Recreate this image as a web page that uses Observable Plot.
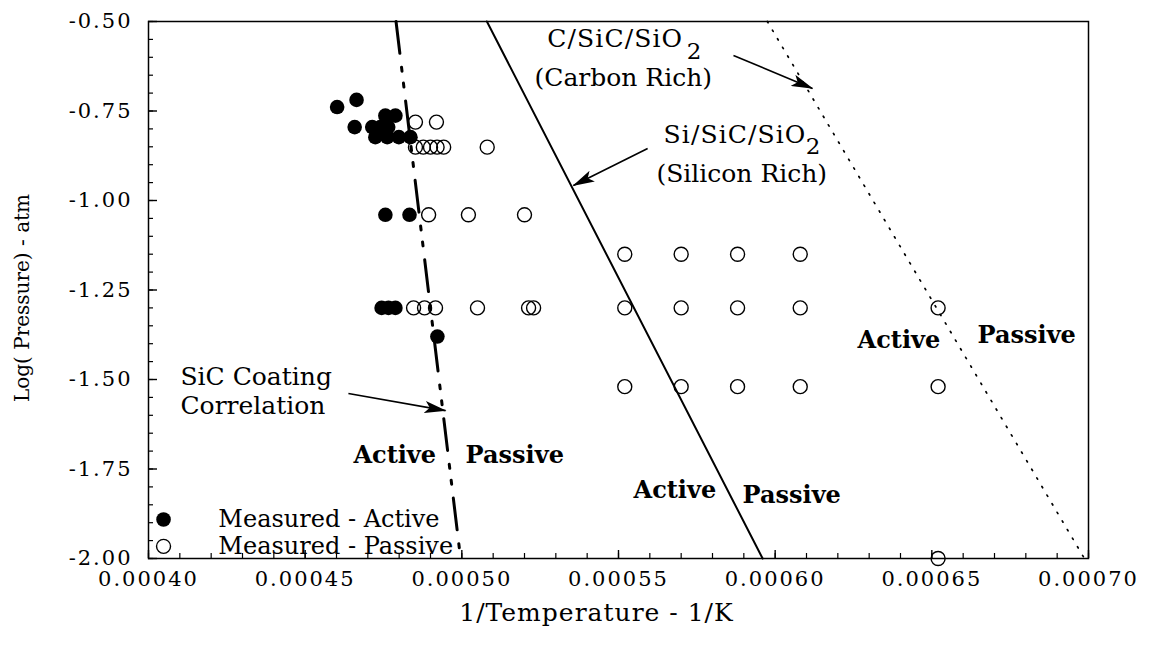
<!DOCTYPE html>
<html><head><meta charset="utf-8">
<script src="https://cdn.jsdelivr.net/npm/d3@7"></script>
<script src="https://cdn.jsdelivr.net/npm/@observablehq/plot@0.6"></script>
<style>
html,body{margin:0;padding:0;background:#fff;}
#chart{width:1158px;height:651px;}
</style>
</head><body>
<div id="chart"></div>
<script>
// ---- axis ticks ----
const xTicksMajor = [0.0004, 0.00045, 0.0005, 0.00055, 0.0006, 0.00065, 0.0007];
const xTickLabels = ["0.00040","0.00045","0.00050","0.00055","0.00060","0.00065","0.00070"];
const yTicksMajor = [-0.5, -0.75, -1.0, -1.25, -1.5, -1.75, -2.0];
const yTickLabels = ["-0.50","-0.75","-1.00","-1.25","-1.50","-1.75","-2.00"];
const xTicksMinor = d3.range(0, 31).map(i => 0.0004 + i * 0.00001);
const yTicksMinor = d3.range(0, 31).map(i => -0.5 - i * 0.05);

// ---- measured points ----
const activeX = [0.0004602,0.0004664,0.0004658,0.0004714,0.000474,0.0004765,0.0004756,0.0004788,
                 0.0004724,0.0004762,0.0004799,0.0004836,0.0004756,0.0004833,
                 0.0004744,0.0004766,0.0004788,0.0004922];
const activeY = [-0.739,-0.719,-0.795,-0.795,-0.795,-0.795,-0.763,-0.763,
                 -0.823,-0.823,-0.823,-0.823,-1.04,-1.04,
                 -1.30,-1.30,-1.30,-1.38];

const passiveX = [0.0004852,0.0004919,
                  0.0004852,0.0004877,0.00049,0.0004921,0.0004942,0.0005081,
                  0.0004894,0.0005021,0.00052,
                  0.000552,0.00057,0.000588,0.000608,
                  0.0004846,0.0004881,0.0004916,0.000505,0.0005213,0.0005229,0.000552,0.00057,0.000588,0.000608,0.000652,
                  0.000552,0.00057,0.000588,0.000608,0.000652,
                  0.000652];
const passiveY = [-0.781,-0.781,
                  -0.851,-0.851,-0.851,-0.851,-0.851,-0.851,
                  -1.04,-1.04,-1.04,
                  -1.15,-1.15,-1.15,-1.15,
                  -1.30,-1.30,-1.30,-1.30,-1.30,-1.30,-1.30,-1.30,-1.30,-1.30,-1.30,
                  -1.52,-1.52,-1.52,-1.52,-1.52,
                  -2.0];

// ---- boundary lines ----
const coatingX = [0.000479, 0.0004996];
const coatingY = [-0.5, -2.0];
const siRichX = [0.000508, 0.000596];
const siRichY = [-0.5, -2.0];
const cRichX = [0.0005975, 0.0006987];
const cRichY = [-0.5, -2.0];

// ---- annotations ----
const formulaText = ["C/SiC/SiO", "Si/SiC/SiO"];
const formulaX = [0.0005273, 0.0005644];
const formulaY = [-0.550, -0.816];
const subText = ["2", "2"];
const subX = [0.0005718, 0.0006098];
const subY = [-0.583, -0.849];
const noteText = ["(Carbon Rich)", "(Silicon Rich)", "SiC Coating", "Correlation"];
const noteX = [0.0005232, 0.0005621, 0.0004102, 0.0004102];
const noteY = [-0.659, -0.925, -1.494, -1.573];
const regionText = ["Active","Passive","Active","Passive","Active","Passive"];
const regionX = [0.0004654,0.0005012,0.0005548,0.0005896,0.0006263,0.0006646];
const regionY = [-1.712,-1.712,-1.810,-1.824,-1.391,-1.377];
const arrowX1 = [0.0005867, 0.0005593, 0.0004638];
const arrowY1 = [-0.595, -0.855, -1.539];
const arrowX2 = [0.0006119, 0.0005356, 0.0004948];
const arrowY2 = [-0.687, -0.958, -1.587];

// ---- legend ----
const legendText = ["Measured - Active", "Measured - Passive"];
const legendMarkX = [0.0004048, 0.0004048];
const legendTextX = [0.0004223, 0.0004223];
const legendY = [-1.891, -1.966];

const xTitle = "1/Temperature - 1/K";
const yTitle = "Log( Pressure) - atm";

const idx = a => a.map((_, i) => i);
const INNER_H = 651 - 21 - 93, INNER_W = 1158 - 148 - 70;

const plot = Plot.plot({
  width: 1158, height: 651,
  marginTop: 21, marginRight: 70, marginBottom: 93, marginLeft: 148,
  style: {fontFamily: "'DejaVu Serif', serif", fontSize: "21px", background: "white", color: "black"},
  x: {domain: [0.0004, 0.0007]},
  y: {domain: [-2.0, -0.5]},
  marks: [
    // minor & major ticks (inward)
    Plot.tickX(xTicksMinor, {x: d => d, insetTop: INNER_H - 5, strokeWidth: 1.2}),
    Plot.tickX(xTicksMajor, {x: d => d, insetTop: INNER_H - 8, strokeWidth: 1.4}),
    Plot.tickY(yTicksMinor, {y: d => d, insetRight: INNER_W - 5, strokeWidth: 1.2}),
    Plot.tickY(yTicksMajor, {y: d => d, insetRight: INNER_W - 9, strokeWidth: 1.4}),
    Plot.axisX(xTicksMajor, {tickSize: 0, tickPadding: 13, tickFormat: d => xTickLabels[xTicksMajor.indexOf(d)], label: null, fontSize: 21}),
    Plot.axisY(yTicksMajor, {tickSize: 0, tickPadding: 16, tickFormat: d => yTickLabels[yTicksMajor.indexOf(d)], label: null, fontSize: 21}),
    Plot.frame({strokeWidth: 1.5}),
    // boundary lines
    Plot.line(idx(coatingX), {x: i => coatingX[i], y: i => coatingY[i], strokeWidth: 3, strokeDasharray: "32,14,4,12,4,14"}),
    Plot.line(idx(siRichX), {x: i => siRichX[i], y: i => siRichY[i], strokeWidth: 2}),
    Plot.line(idx(cRichX), {x: i => cRichX[i], y: i => cRichY[i], strokeWidth: 1.7, strokeDasharray: "1.5,8.5"}),
    // points
    Plot.dot(idx(passiveX), {x: i => passiveX[i], y: i => passiveY[i], r: 7, stroke: "black", strokeWidth: 1.4, fill: "none"}),
    Plot.dot(idx(activeX), {x: i => activeX[i], y: i => activeY[i], r: 7.3, fill: "black", stroke: "none"}),
    // arrows
    Plot.link(idx(arrowX1), {x1: i => arrowX1[i], y1: i => arrowY1[i], x2: i => arrowX2[i], y2: i => arrowY2[i], strokeWidth: 1.6, ariaDescription: "annotation-arrow"}),
    // annotation text
    Plot.text(idx(formulaText), {x: i => formulaX[i], y: i => formulaY[i], text: i => formulaText[i], textAnchor: "start", fontSize: 25, ariaDescription: "formula"}),
    Plot.text(idx(subText), {x: i => subX[i], y: i => subY[i], text: i => subText[i], textAnchor: "start", fontSize: 23}),
    Plot.text(idx(noteText), {x: i => noteX[i], y: i => noteY[i], text: i => noteText[i], textAnchor: "start", fontSize: 25}),
    Plot.text(idx(regionText), {x: i => regionX[i], y: i => regionY[i], text: i => regionText[i], textAnchor: "start", fontSize: 24, fontWeight: "bold"}),
    // legend
    Plot.dot([0], {x: i => legendMarkX[0], y: i => legendY[0], r: 7.3, fill: "black"}),
    Plot.dot([1], {x: i => legendMarkX[1], y: i => legendY[1], r: 7, stroke: "black", strokeWidth: 1.4, fill: "none"}),
    Plot.text(idx(legendText), {x: i => legendTextX[i], y: i => legendY[i], text: i => legendText[i], textAnchor: "start", fontSize: 24}),
    // axis titles
    Plot.text([xTitle], {frameAnchor: "bottom", dx: -22, dy: 62, fontSize: 25, textAnchor: "middle", ariaDescription: "xtitle"}),
    Plot.text([yTitle], {frameAnchor: "left", dx: -126, dy: 8, rotate: -90, fontSize: 20, textAnchor: "middle"})
  ]
});

const svg = d3.select(plot);
svg.selectAll('g[aria-label="x-axis tick label"], g[aria-label="y-axis tick label"]').style("letter-spacing", "2px");
svg.selectAll('g[aria-description="formula"]').style("letter-spacing", "1.1px");
svg.selectAll('g[aria-description="xtitle"]').style("letter-spacing", "1px");
const defs = svg.insert("defs", ":first-child");
defs.append("marker")
  .attr("id", "ahead").attr("markerUnits", "userSpaceOnUse")
  .attr("viewBox", "0 0 22 12").attr("refX", 21).attr("refY", 6)
  .attr("markerWidth", 22).attr("markerHeight", 12).attr("orient", "auto")
  .append("path").attr("d", "M0,0 L22,6 L0,12 L5,6 Z").attr("fill", "black").attr("stroke", "none");
svg.selectAll('g[aria-description="annotation-arrow"] path').attr("marker-end", "url(#ahead)");

document.getElementById("chart").append(plot);
</script>
</body></html>
